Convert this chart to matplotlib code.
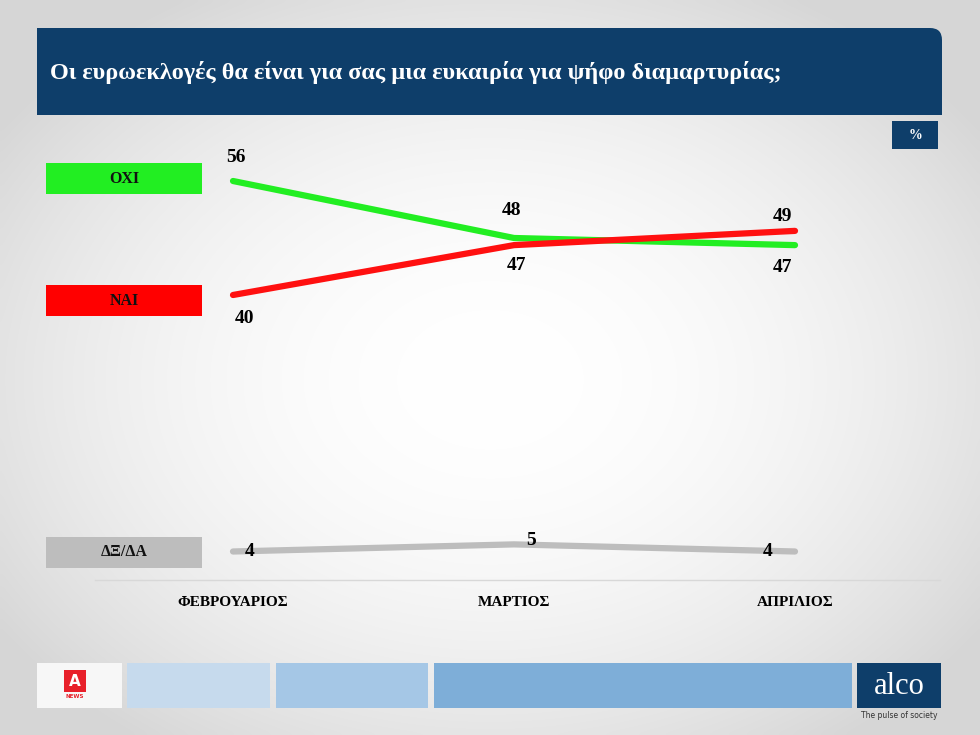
import matplotlib
matplotlib.use("Agg")
import matplotlib.pyplot as plt
from matplotlib.patches import Rectangle, FancyBboxPatch
import numpy as np

months = ["ΦΕΒΡΟΥΑΡΙΟΣ", "ΜΑΡΤΙΟΣ", "ΑΠΡΙΛΙΟΣ"]
oxi = [56, 48, 47]
nai = [40, 47, 49]
dk = [4, 5, 4]
title = "Οι ευρωεκλογές θα είναι για σας μια ευκαιρία για ψήφο διαμαρτυρίας;"

SERIF = ["Liberation Serif", "DejaVu Serif"]
fig = plt.figure(figsize=(9.8, 7.35), dpi=100)
bg = fig.add_axes([0, 0, 1, 1])
bg.set_xlim(0, 980); bg.set_ylim(735, 0); bg.axis("off")
# radial gradient background
gx, gy = np.meshgrid(np.linspace(0, 980, 196), np.linspace(0, 735, 147))
r = np.sqrt(((gx - 490) / 560) ** 2 + ((gy - 380) / 420) ** 2)
v = np.clip(1.0 - 0.14 * r ** 2, 0.84, 1.0)
bg.imshow(np.dstack([v, v, v]), extent=(0, 980, 735, 0), aspect="auto", interpolation="bicubic", zorder=0)
# title box
bg.add_patch(FancyBboxPatch((37, 28), 905, 87, boxstyle="round,pad=0,rounding_size=12", color="#0e3e6a", lw=0))
bg.add_patch(Rectangle((37, 28), 20, 87, color="#0e3e6a", lw=0))
bg.add_patch(Rectangle((37, 95), 905, 20, color="#0e3e6a", lw=0))
bg.text(50, 72, title, color="white", fontsize=17.5, fontweight="bold", family=SERIF, va="center")
bg.add_patch(Rectangle((892, 121), 46, 28, color="#0e3e6a", lw=0))
bg.text(915, 135, "%", color="white", fontsize=10, fontweight="bold", family=SERIF, ha="center", va="center")
# legend boxes
for y0, col, lab in [(163, "#22ee22", "ΟΧΙ"), (285, "#ff0000", "ΝΑΙ"), (537, "#bdbdbd", "ΔΞ/ΔΑ")]:
    bg.add_patch(Rectangle((46, y0), 156, 31, color=col, lw=0))
    bg.text(124, y0 + 15.5, lab, color="#111111", fontsize=11.5, fontweight="bold", family=SERIF, ha="center", va="center")
# axis line
bg.plot([95, 940], [580, 580], color="#d8d8d8", lw=1)
# footer
bg.add_patch(Rectangle((37, 663), 85, 45, color="#f7f7f7", lw=0))
bg.add_patch(Rectangle((127, 663), 143, 45, color="#c6daed", lw=0))
bg.add_patch(Rectangle((276, 663), 152, 45, color="#a5c7e6", lw=0))
bg.add_patch(Rectangle((434, 663), 418, 45, color="#7eaed8", lw=0))
bg.add_patch(Rectangle((857, 663), 84, 45, color="#0e3e6a", lw=0))
bg.text(899, 686, "alco", color="white", fontsize=22, family=SERIF, ha="center", va="center")
bg.text(899, 716, "The pulse of society", color="#333333", fontsize=5.5, ha="center", va="center")
bg.add_patch(Rectangle((64, 670), 22, 22, color="#e8202a", lw=0))
bg.text(75, 681, "A", color="white", fontsize=11, fontweight="bold", ha="center", va="center")
bg.text(75, 697, "NEWS", color="#e8202a", fontsize=4, fontweight="bold", ha="center", va="center")

ax = fig.add_axes([233/980, 1 - 551.5/735, 562/980, 370.5/735])
ax.set_xlim(0, 2); ax.set_ylim(4, 56); ax.axis("off")
x = np.arange(len(months))
ax.plot(x, oxi, color="#22ee22", lw=4.5, solid_capstyle="round", clip_on=False)
ax.plot(x, nai, color="#ff1010", lw=4.5, solid_capstyle="round", clip_on=False)
ax.plot(x, dk, color="#bdbdbd", lw=4.5, solid_capstyle="round", clip_on=False)
kw = dict(fontsize=14, fontweight="bold", family=SERIF, ha="center", va="center", textcoords="offset points")
for i, (dx, dy) in enumerate([(2, 17), (-2, 20), (-9, -16)]):
    ax.annotate(str(oxi[i]), (x[i], oxi[i]), xytext=(dx, dy), **kw)
for i, (dx, dy) in enumerate([(8, -17), (2, -15), (-9, 10)]):
    ax.annotate(str(nai[i]), (x[i], nai[i]), xytext=(dx, dy), **kw)
for i, (dx, dy) in enumerate([(12, 0), (12, 3), (-20, 0)]):
    ax.annotate(str(dk[i]), (x[i], dk[i]), xytext=(dx, dy), **kw)
for i, m in enumerate(months):
    ax.annotate(m, (x[i], 4), xytext=(0, -37), fontsize=11, fontweight="bold", family=SERIF,
                ha="center", va="center", textcoords="offset points", annotation_clip=False)
fig.savefig("out.png", dpi=100)
